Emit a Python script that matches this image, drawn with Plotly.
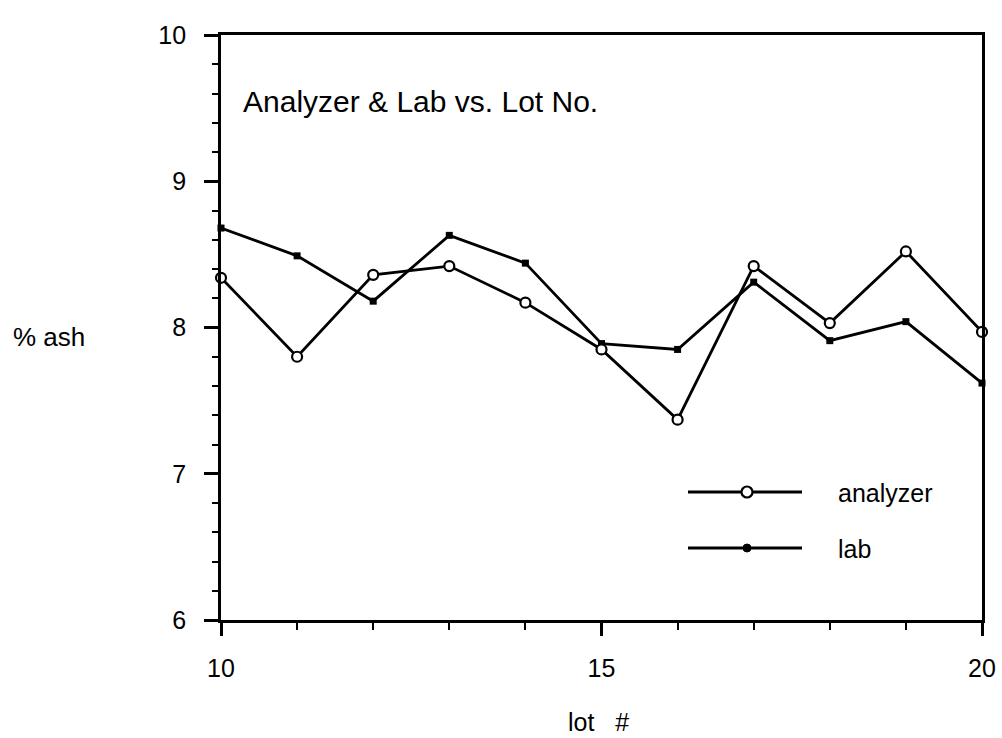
import plotly.graph_objects as go

# ---- data ----
lots = [10, 11, 12, 13, 14, 15, 16, 17, 18, 19, 20]
analyzer = [8.34, 7.80, 8.36, 8.42, 8.17, 7.85, 7.37, 8.42, 8.03, 8.52, 7.97]
lab = [8.68, 8.49, 8.18, 8.63, 8.44, 7.89, 7.85, 8.31, 7.91, 8.04, 7.62]
x_ticks = [10, 15, 20]
y_ticks = [6, 7, 8, 9, 10]
title_text = "Analyzer & Lab vs. Lot No."
x_title = "lot\u00a0\u00a0\u00a0#"
y_title = "% ash"
series_names = ["analyzer", "lab"]

FONT = "Liberation Sans, Arial, Helvetica, sans-serif"
W, H = 1002, 738
L, R, T, B = 221, 20, 35, 118
PW, PH = W - L - R, H - T - B


def px(xpix):
    return (xpix - L) / PW


def py(ypix):
    return (H - B - ypix) / PH


fig = go.Figure()
fig.add_trace(go.Scatter(
    x=lots, y=lab, mode="lines+markers", name=series_names[1],
    line=dict(color="black", width=2.8),
    marker=dict(symbol="square", size=7, color="black"),
    cliponaxis=False, showlegend=False))
fig.add_trace(go.Scatter(
    x=lots, y=analyzer, mode="lines+markers", name=series_names[0],
    line=dict(color="black", width=2.8),
    marker=dict(symbol="circle", size=10, color="white",
                line=dict(color="black", width=2.2)),
    cliponaxis=False, showlegend=False))

axis_common = dict(showline=True, linecolor="black", linewidth=2.8, mirror=True,
                   showgrid=False, zeroline=False, ticks="outside",
                   tickcolor="black", tickwidth=2.5, automargin=False,
                   tickfont=dict(family=FONT, size=25, color="black"))

fig.update_xaxes(range=[10, 20], tickvals=x_ticks, ticklen=13,
                 ticklabelstandoff=11,
                 minor=dict(dtick=1, ticks="outside", ticklen=7, tickwidth=2.2,
                            tickcolor="black", showgrid=False),
                 **axis_common)
fig.update_yaxes(range=[6, 10], tickvals=y_ticks, ticklen=14,
                 ticklabelstandoff=13,
                 minor=dict(dtick=0.2, ticks="outside", ticklen=6, tickwidth=2,
                            tickcolor="black", showgrid=False),
                 **axis_common)

annotations = [
    dict(text=title_text, x=px(241), y=py(101), xref="paper", yref="paper",
         xanchor="left", yanchor="middle", showarrow=False,
         font=dict(family=FONT, size=30, color="black")),
    dict(text=y_title, x=px(11), y=py(337), xref="paper", yref="paper",
         xanchor="left", yanchor="middle", showarrow=False,
         font=dict(family=FONT, size=26, color="black")),
    dict(text=x_title, x=px(598), y=py(722), xref="paper", yref="paper",
         xanchor="center", yanchor="middle", showarrow=False,
         font=dict(family=FONT, size=25, color="black")),
    dict(text=series_names[0], x=px(836), y=py(493), xref="paper", yref="paper",
         xanchor="left", yanchor="middle", showarrow=False,
         font=dict(family=FONT, size=25, color="black")),
    dict(text=series_names[1], x=px(836), y=py(549), xref="paper", yref="paper",
         xanchor="left", yanchor="middle", showarrow=False,
         font=dict(family=FONT, size=25, color="black")),
]

# hand-drawn legend samples (decoration, not data)
shapes = [
    dict(type="line", xref="paper", yref="paper", x0=px(688), x1=px(802),
         y0=py(492), y1=py(492), line=dict(color="black", width=2.8)),
    dict(type="line", xref="paper", yref="paper", x0=px(688), x1=px(802),
         y0=py(548), y1=py(548), line=dict(color="black", width=2.8)),
    dict(type="circle", xref="paper", yref="paper", xsizemode="pixel",
         ysizemode="pixel", xanchor=px(747), yanchor=py(492),
         x0=-5.5, x1=5.5, y0=-5.5, y1=5.5,
         fillcolor="white", line=dict(color="black", width=2.2)),
    dict(type="circle", xref="paper", yref="paper", xsizemode="pixel",
         ysizemode="pixel", xanchor=px(747), yanchor=py(548),
         x0=-4, x1=4, y0=-4, y1=4,
         fillcolor="black", line=dict(color="black", width=1)),
]

fig.update_layout(
    width=W, height=H,
    margin=dict(l=L, r=R, t=T, b=B, autoexpand=False),
    paper_bgcolor="white", plot_bgcolor="white",
    font=dict(family=FONT, color="black"),
    annotations=annotations, shapes=shapes,
    showlegend=False,
)

fig.write_html("out.html",
               config={"displayModeBar": False},
               post_script="document.body.style.margin='0';"
                           "document.body.style.overflow='hidden';")
